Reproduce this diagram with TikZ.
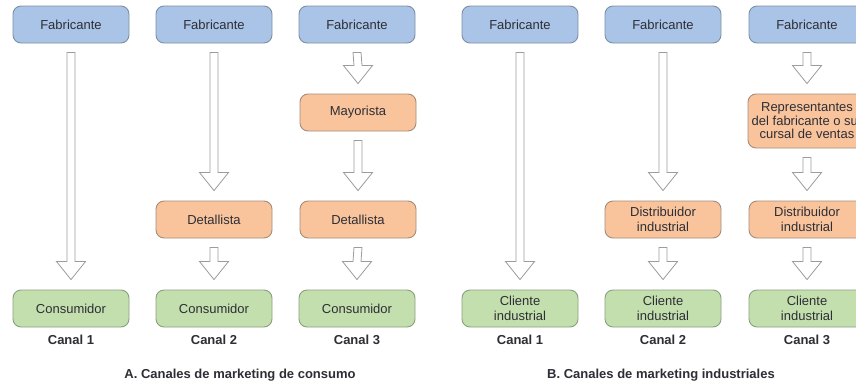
\documentclass[tikz,border=0pt]{standalone}
\usepackage{fontspec}
\setmainfont{Liberation Sans}
\usetikzlibrary{calc}
\definecolor{fabblue}{HTML}{A9C4E6}
\definecolor{fabline}{HTML}{7F8FA3}
\definecolor{midorange}{HTML}{F9C49C}
\definecolor{midline}{HTML}{A58C7A}
\definecolor{endgreen}{HTML}{C4DFAE}
\definecolor{endline}{HTML}{8C9E80}
\definecolor{arrowgray}{HTML}{9C9C9C}
\definecolor{txtdark}{HTML}{2E2E36}
\begin{document}
\begin{tikzpicture}[x=1pt, y=-1pt,
  box/.style={rounded corners=8pt, line width=0.9pt, minimum width=116pt, minimum height=37pt, align=center, inner sep=2pt, text=txtdark, font=\fontsize{13}{15}\selectfont},
  fab/.style={box, fill=fabblue, draw=fabline},
  mid/.style={box, fill=midorange, draw=midline},
  fin/.style={box, fill=endgreen, draw=endline},
  lbl/.style={text=txtdark, font=\bfseries\fontsize{13}{15}\selectfont},
  hollow/.style={draw=arrowgray, fill=white, line width=0.8pt, to path={
    ($(\tikztostart.south)+(-4,9)$) -- ($(\tikztotarget.north)+(-4,-28)$)
    -- ($(\tikztotarget.north)+(-14.5,-28)$) -- ($(\tikztotarget.north)+(0,-10)$)
    -- ($(\tikztotarget.north)+(14.5,-28)$) -- ($(\tikztotarget.north)+(4,-28)$)
    -- ($(\tikztostart.south)+(4,9)$) -- cycle}}]
\useasboundingbox[fill=white] (0,0) rectangle (856,383);
% A. consumo
\node[fab] (fa1) at (71,24.5){Fabricante};
\node[fin] (ca1) at (71,308.5){Consumidor};
\draw[hollow] (fa1) to (ca1);
\node[lbl] (la1) at (71,340){Canal 1};
\node[fab] (fa2) at (214,24.5){Fabricante};
\node[mid] (da2) at (214,219.5){Detallista};
\node[fin] (ca2) at (214,308.5){Consumidor};
\draw[hollow] (fa2) to (da2);
\draw[hollow] (da2) to (ca2);
\node[lbl] (la2) at (214,340){Canal 2};
\node[fab] (fa3) at (357,24.5){Fabricante};
\node[mid] (ma3) at (358,112.5){Mayorista};
\node[mid] (da3) at (358,219.5){Detallista};
\node[fin] (ca3) at (357,308.5){Consumidor};
\draw[hollow] (fa3) to (ma3);
\draw[hollow] (ma3) to (da3);
\draw[hollow] (da3) to (ca3);
\node[lbl] (la3) at (357,340){Canal 3};
\node[lbl] (ta) at (240,375){A. Canales de marketing de consumo};
% B. industriales
\node[fab] (fb1) at (520,24.5){Fabricante};
\node[fin] (cb1) at (520,308.5){Cliente\\industrial};
\draw[hollow] (fb1) to (cb1);
\node[lbl] (lb1) at (520,340){Canal 1};
\node[fab] (fb2) at (663,24.5){Fabricante};
\node[mid] (db2) at (663,219.5){Distribuidor\\industrial};
\node[fin] (cb2) at (663,308.5){Cliente\\industrial};
\draw[hollow] (fb2) to (db2);
\draw[hollow] (db2) to (cb2);
\node[lbl] (lb2) at (663,340){Canal 2};
\node[fab] (fb3) at (807,24.5){Fabricante};
\node[mid, minimum width=118pt, minimum height=54pt, font=\fontsize{13}{13.5}\selectfont] (rb3) at (807,121){Representantes\\del fabricante o su-\\cursal de ventas};
\node[mid] (db3) at (807,219.5){Distribuidor\\industrial};
\node[fin] (cb3) at (807,308.5){Cliente\\industrial};
\draw[hollow] (fb3) to (rb3);
\draw[hollow] (rb3) to (db3);
\draw[hollow] (db3) to (cb3);
\node[lbl] (lb3) at (807,340){Canal 3};
\node[lbl] (tb) at (661,375){B. Canales de marketing industriales};
\end{tikzpicture}
\end{document}
